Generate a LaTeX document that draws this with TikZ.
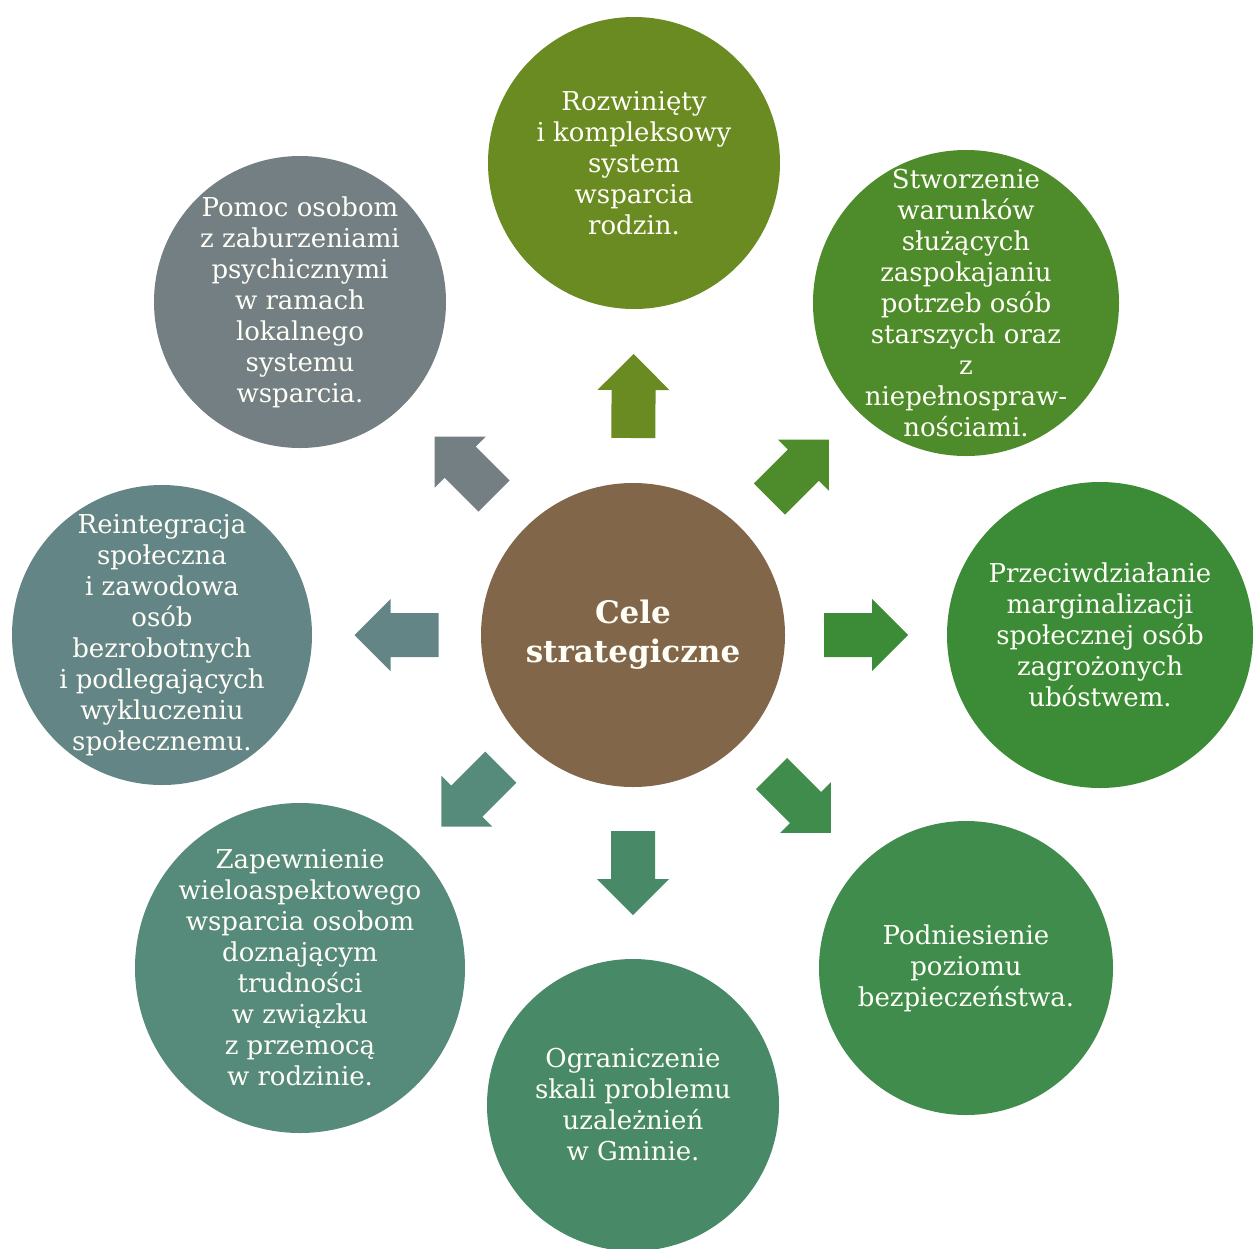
\documentclass[tikz,border=0pt]{standalone}
\usepackage{fontspec}
\setmainfont{DejaVu Serif}
\usepackage{xcolor}
\usetikzlibrary{
  calc,
  positioning
}
\definecolor{ctrbrown}{HTML}{82664A}
\definecolor{goalA}{HTML}{6A8A22}
\definecolor{goalB}{HTML}{4E8B2B}
\definecolor{goalC}{HTML}{3C8C37}
\definecolor{goalD}{HTML}{3F8C4C}
\definecolor{goalE}{HTML}{488A68}
\definecolor{goalF}{HTML}{568A7B}
\definecolor{goalG}{HTML}{648586}
\definecolor{goalH}{HTML}{737F83}
\tikzset{
  line join=miter,
  goal/.style={circle, inner sep=0pt, minimum size=#1},
  goaltext/.style={align=center, inner sep=0pt, text=white!97!yellow,
    font=\fontsize{13}{15.5}\selectfont},
  hub/.style={goal=152pt, fill=ctrbrown, align=center, text=white!97!yellow,
    font=\fontsize{15.5}{19.5}\selectfont\bfseries},
  blockarrow/.pic={
    \fill (-42,-22) -- (6,-22) -- (6,-36) -- (42,0) -- (6,36) -- (6,22) -- (-42,22) -- cycle;
  }
}
\begin{document}
\begin{tikzpicture}[x=0.5pt,y=-0.5pt]
  \useasboundingbox (0,0) rectangle (1253,1248);

  \node[hub] (ctr) at (633,635) {Cele\\strategiczne};

  \node[goal=146pt, fill=goalA, label={[goaltext]center:{Rozwinięty\\i kompleksowy\\system\\wsparcia\\rodzin.}}]
    (top) at (634,163) {};
  \node[goal=153pt, fill=goalB, label={[goaltext]center:{Stworzenie\\warunków\\służących\\zaspokajaniu\\potrzeb osób\\starszych oraz\\z\\niepełnospraw-\\nościami.}}]
    (topr) at (966,303) {};
  \node[goal=153pt, fill=goalC, label={[goaltext]center:{Przeciwdziałanie\\marginalizacji\\społecznej osób\\zagrożonych\\ubóstwem.}}]
    (right) at (1100,635) {};
  \node[goal=147pt, fill=goalD, label={[goaltext]center:{Podniesienie\\poziomu\\bezpieczeństwa.}}]
    (botr) at (966,968) {};
  \node[goal=146pt, fill=goalE, label={[goaltext]center:{Ograniczenie\\skali problemu\\uzależnień\\w Gminie.}}]
    (bot) at (633,1105) {};
  \node[goal=165pt, fill=goalF, label={[goaltext]center:{Zapewnienie\\wieloaspektowego\\wsparcia osobom\\doznającym\\trudności\\w związku\\z przemocą\\w rodzinie.}}]
    (botl) at (300,968) {};
  \node[goal=150pt, fill=goalG, label={[goaltext]center:{Reintegracja\\społeczna\\i zawodowa\\osób\\bezrobotnych\\i podlegających\\wykluczeniu\\społecznemu.}}]
    (left) at (162,635) {};
  \node[goal=146pt, fill=goalH, label={[goaltext]center:{Pomoc osobom\\z zaburzeniami\\psychicznymi\\w ramach\\lokalnego\\systemu\\wsparcia.}}]
    (topl) at (300,302) {};

  % block arrows from the hub
  \foreach \g/\c in {top/goalA, topr/goalB, right/goalC, botr/goalD,
                     bot/goalE, botl/goalF, left/goalG, topl/goalH}
    \path (ctr) -- (\g) pic[pos=.5, sloped, allow upside down, color=\c] {blockarrow};
\end{tikzpicture}
\end{document}
